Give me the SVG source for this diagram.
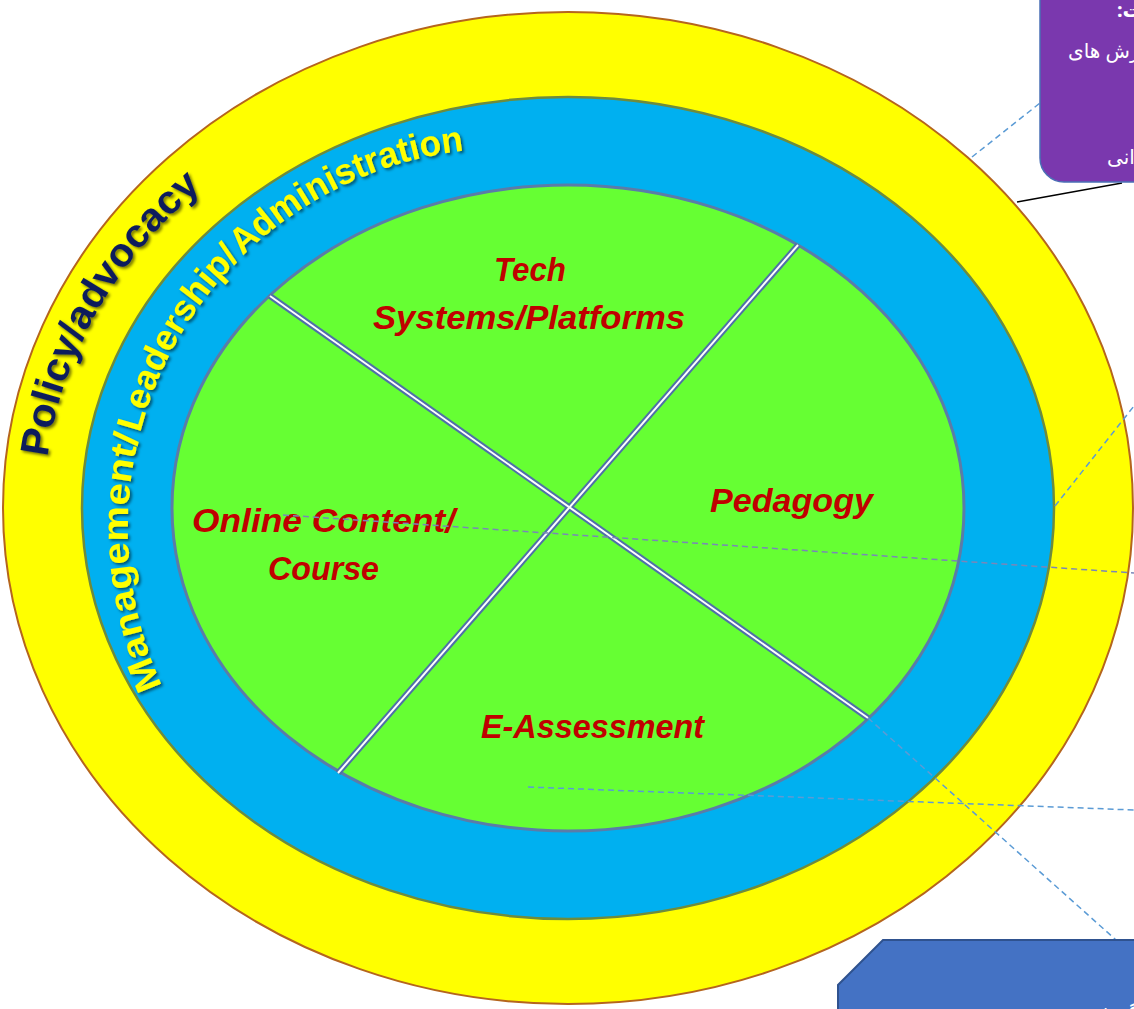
<svg xmlns="http://www.w3.org/2000/svg" width="1134" height="1009" viewBox="0 0 1134 1009">
  <style>
    .lbl { font-family: "Liberation Sans", Arial, sans-serif; font-weight: bold; font-style: italic; font-size: 34px; fill: #c00000; }
    .ring-txt { font-family: "Liberation Sans", Arial, sans-serif; font-weight: bold; }
    .fa { font-family: "Noto Sans", "DejaVu Sans", sans-serif; fill: #ffffff; }
    .dash { fill: none; stroke: #5b9bd5; stroke-width: 1.5; stroke-dasharray: 6 4; }
    .div-o { stroke: #4f6fa8; stroke-width: 6; stroke-linecap: butt; }
    .div-i { stroke: #ffffff; stroke-width: 2; }
  </style>
  <defs>
    <filter id="shadow" x="-10%" y="-10%" width="120%" height="120%">
      <feDropShadow dx="2" dy="2" stdDeviation="1.5" flood-color="#000000" flood-opacity="0.55"/>
    </filter>
    <path id="p-policy" d="M 47.4 457.3 A 524 448 0 0 1 306 120"/>
    <path id="p-mgmt" d="M 162.4 686 A 380 380 0 0 1 541.1 149.4"/>
  </defs>

  <rect width="1134" height="1009" fill="#ffffff"/>

  <g id="ring-policy">
    <ellipse cx="568" cy="508" rx="565" ry="496" fill="#ffff00" stroke="#b5651d" stroke-width="2"/>
    <text class="ring-txt" font-size="40" fill="#0d1f5c" filter="url(#shadow)"><textPath href="#p-policy" textLength="318" lengthAdjust="spacingAndGlyphs">Policy/advocacy</textPath></text>
  </g>

  <g id="ring-management">
    <ellipse cx="568" cy="508" rx="486" ry="411" fill="#00b0f0" stroke="#6e8b3d" stroke-width="2.5"/>
    <text class="ring-txt" font-size="36" fill="#ffff00" filter="url(#shadow)"><textPath href="#p-mgmt" startOffset="0" textLength="256" lengthAdjust="spacingAndGlyphs">Management/</textPath><textPath href="#p-mgmt" startOffset="259" textLength="204" lengthAdjust="spacingAndGlyphs">Leadership/</textPath><textPath href="#p-mgmt" startOffset="466" textLength="250" lengthAdjust="spacingAndGlyphs">Administration</textPath></text>
  </g>

  <g id="core">
    <ellipse cx="568" cy="508" rx="396" ry="323" fill="#66ff33" stroke="#5b7ca8" stroke-width="3"/>
    <line class="div-o" x1="270" y1="296" x2="868" y2="718"/>
    <line class="div-o" x1="798" y1="245" x2="338" y2="773"/>
    <line class="div-i" x1="270" y1="296" x2="868" y2="718"/>
    <line class="div-i" x1="798" y1="245" x2="338" y2="773"/>
  </g>

  <g id="q-tech">
    <text class="lbl" x="494" y="281" textLength="72" lengthAdjust="spacingAndGlyphs">Tech</text>
    <text class="lbl" x="373" y="329" textLength="312" lengthAdjust="spacingAndGlyphs">Systems/Platforms</text>
  </g>
  <g id="q-pedagogy">
    <text class="lbl" x="710" y="512" textLength="163" lengthAdjust="spacingAndGlyphs">Pedagogy</text>
  </g>
  <g id="q-content">
    <text class="lbl" x="192" y="532" textLength="263" lengthAdjust="spacingAndGlyphs">Online Content/</text>
    <text class="lbl" x="268" y="580" textLength="111" lengthAdjust="spacingAndGlyphs">Course</text>
  </g>
  <g id="q-assessment">
    <text class="lbl" x="481" y="738" textLength="223" lengthAdjust="spacingAndGlyphs">E-Assessment</text>
  </g>

  <g id="connectors">
    <line class="dash" x1="972" y1="157" x2="1040" y2="103"/>
    <line x1="1017" y1="202" x2="1122" y2="183" stroke="#000000" stroke-width="1.3"/>
    <line class="dash" x1="1055" y1="506" x2="1134" y2="406"/>
    <line class="dash" x1="283" y1="515" x2="1134" y2="573" style="stroke:#7a86b8"/>
    <line class="dash" x1="528" y1="787" x2="1134" y2="810"/>
    <line class="dash" x1="868" y1="718" x2="1116" y2="940"/>
  </g>

  <g id="box-top">
    <rect x="1040" y="-30" width="150" height="212" rx="24" fill="#7a38ae" stroke="#4a6fb5" stroke-width="1.5"/>
    <text class="fa" x="1117" y="17" font-size="20" font-weight="bold" direction="rtl" text-anchor="end">ت:</text>
    <text class="fa" x="1068" y="58" font-size="20" direction="rtl" text-anchor="end">رش های</text>
    <text class="fa" x="1107" y="164" font-size="20" direction="rtl" text-anchor="end">انی</text>
  </g>

  <g id="box-bottom">
    <polygon points="838,1015 838,985 883,940 1140,940 1140,1015" fill="#4472c4" stroke="#2f528f" stroke-width="2"/>
    <text class="fa" x="1090" y="1021" font-size="22" direction="rtl" text-anchor="end">گرش</text>
  </g>
</svg>
